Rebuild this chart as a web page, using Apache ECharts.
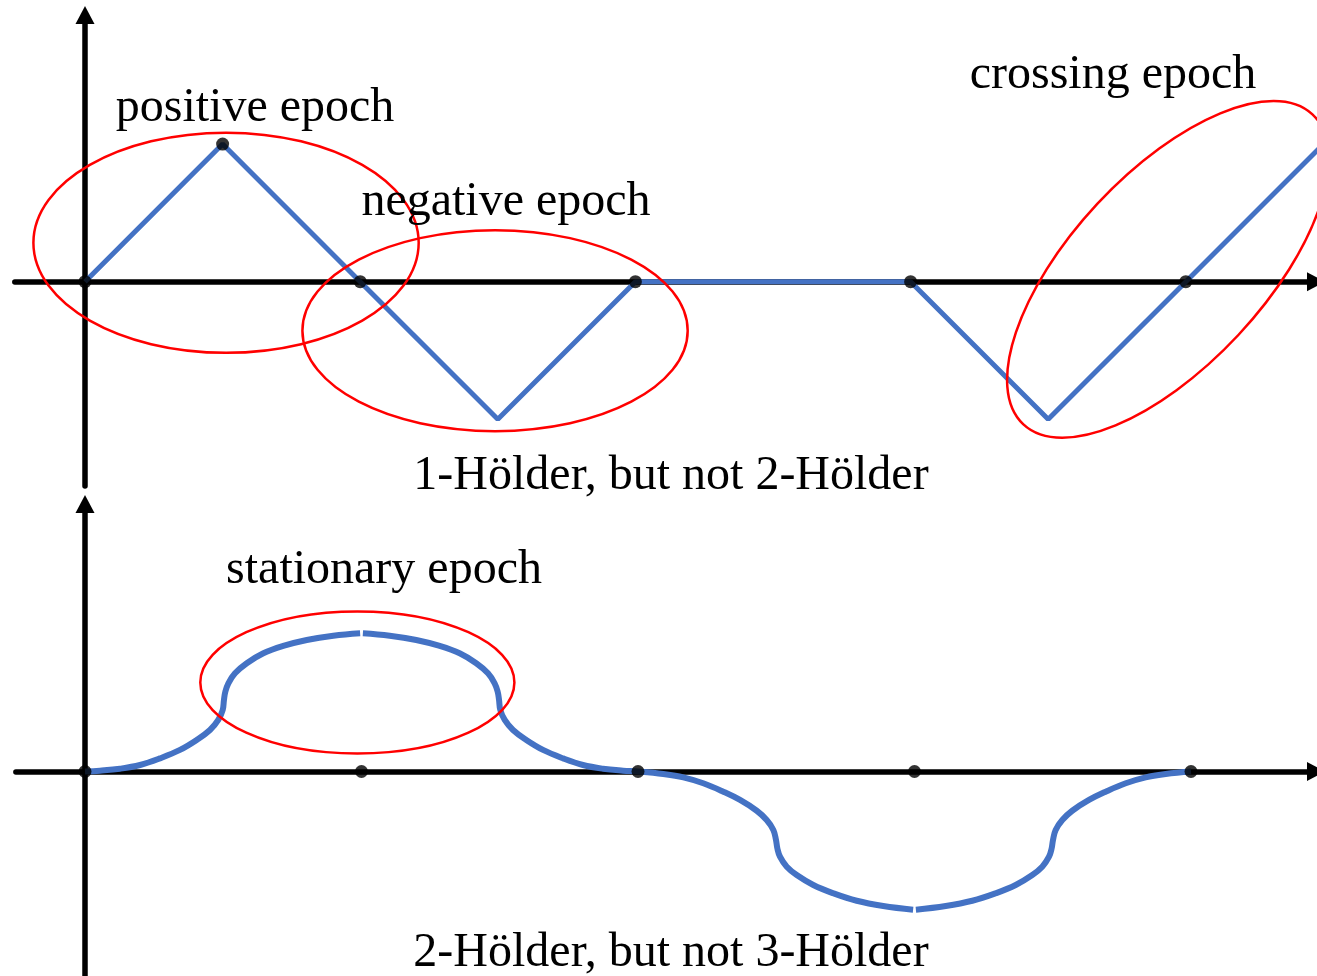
<!DOCTYPE html>
<html><head><meta charset="utf-8">
<script src="https://cdn.jsdelivr.net/npm/echarts@6/dist/echarts.min.js"></script>
<style>html,body{margin:0;padding:0;background:#fff}#c{width:1317px;height:976px}</style>
</head><body><div id="c"></div>
<script>
// ---------- DATA ----------
// top panel: piecewise-linear path (1-Hölder, but not 2-Hölder)
const topLineX = [0, 1, 2, 3, 4, 6, 7, 8, 9];
const topLineY = [0, 1, 0, -1, 0, 0, -1, 0, 1];
const topDotsX = [0, 1, 2, 4, 6, 8];
const topDotsY = [0, 1, 0, 0, 0, 0];
// bottom panel: smooth path (2-Hölder, but not 3-Hölder); null = small gap at the extremum
const botCurveX = [0, 0.108, 0.253, 0.398, 0.542, 0.687, 0.808, 0.904, 0.964, 0.996, 1.005, 1.015, 1.037, 1.085, 1.17, 1.29, 1.434, 1.604, 1.796, 1.99,
  2,
  2.01, 2.204, 2.396, 2.566, 2.71, 2.83, 2.915, 2.963, 2.985, 2.995, 3.004, 3.036, 3.096, 3.192, 3.313, 3.458, 3.602, 3.747, 3.892, 4,
  4.183, 4.328, 4.472, 4.617, 4.738, 4.859, 4.931, 4.979, 4.998, 5.008, 5.027, 5.076, 5.148, 5.268, 5.413, 5.582, 5.774, 5.99,
  6,
  6.01, 6.226, 6.418, 6.587, 6.732, 6.852, 6.924, 6.973, 6.992, 7.002, 7.021, 7.069, 7.141, 7.262, 7.383, 7.528, 7.672, 7.817, 8];
const botCurveY = [0, 0.006, 0.02, 0.047, 0.095, 0.156, 0.228, 0.30, 0.373, 0.445, 0.517, 0.577, 0.638, 0.71, 0.783, 0.855, 0.908, 0.951, 0.982, 1.0,
  null,
  1.0, 0.982, 0.951, 0.908, 0.855, 0.783, 0.71, 0.638, 0.577, 0.517, 0.445, 0.373, 0.30, 0.228, 0.156, 0.095, 0.047, 0.02, 0.006, 0,
  -0.018, -0.042, -0.085, -0.146, -0.206, -0.284, -0.351, -0.423, -0.495, -0.556, -0.616, -0.689, -0.749, -0.821, -0.881, -0.935, -0.973, -1.0,
  null,
  -1.0, -0.973, -0.935, -0.881, -0.821, -0.749, -0.689, -0.616, -0.556, -0.495, -0.423, -0.351, -0.284, -0.206, -0.146, -0.085, -0.042, -0.018, 0];
const botDotsX = [0, 2, 4, 6, 8];
const botDotsY = [0, 0, 0, 0, 0];
// annotation ellipses (data units of their panel)
const ellipsePanel = [0, 0, 0, 1];
const ellipseCX = [1.025, 2.98, 7.87, 1.97];
const ellipseCY = [0.283, -0.356, 0.09, 0.644];
const ellipseRX = [1.40, 1.40, 1.54, 1.136];
const ellipseRY = [0.80, 0.73, 0.70, 0.514];
const ellipseRotDeg = [0, 0, 47, 0];
// text labels
const labelTexts = ['positive epoch', 'negative epoch', 'crossing epoch', '1-Hölder, but not 2-Hölder', 'stationary epoch', '2-Hölder, but not 3-Hölder'];

// ---------- LAYOUT ----------
const panels = [
  {x0: 85, y0: 281.7, u: 137.6, xmin: -0.51, xmax: 8.946, ymin: -1.485, ymax: 1.938},
  {x0: 85, y0: 771.5, u: 138.25, xmin: -0.5, xmax: 8.904, ymin: -1.479, ymax: 1.935}
];
const labelPos = [[255, 120], [506, 214], [1113, 87], [671, 488], [384, 582], [671, 965]];
const BLUE = '#4472C4';

const zip = (xs, ys) => xs.map((x, i) => [x, ys[i]]);

const grids = panels.map(p => ({
  left: p.x0 + p.xmin * p.u,
  top: p.y0 - p.ymax * p.u,
  width: (p.xmax - p.xmin) * p.u,
  height: (p.ymax - p.ymin) * p.u,
  containLabel: false
}));
const axisLineCommon = {
  show: true, onZero: true,
  symbol: ['none', 'triangle'], symbolSize: [19, 18],
  lineStyle: {color: '#000', width: 5.5}
};
const xAxes = panels.map((p, i) => ({
  type: 'value', gridIndex: i, min: p.xmin, max: p.xmax,
  axisLine: axisLineCommon, axisTick: {show: false}, axisLabel: {show: false}, splitLine: {show: false}
}));
const yAxes = panels.map((p, i) => ({
  type: 'value', gridIndex: i, min: p.ymin, max: p.ymax,
  axisLine: axisLineCommon, axisTick: {show: false}, axisLabel: {show: false}, splitLine: {show: false}
}));

const chart = echarts.init(document.getElementById('c'), null, {renderer: 'canvas'});
const option = {
  animation: false,
  backgroundColor: '#fff',
  grid: grids,
  xAxis: xAxes,
  yAxis: yAxes,
  series: [
    {type: 'line', xAxisIndex: 0, yAxisIndex: 0, data: zip(topLineX, topLineY), symbol: 'none',
      lineStyle: {color: BLUE, width: 5}, z: 3},
    {type: 'scatter', xAxisIndex: 0, yAxisIndex: 0, data: zip(topDotsX, topDotsY), symbolSize: 13,
      itemStyle: {color: '#000'}, z: 4},
    {type: 'line', xAxisIndex: 1, yAxisIndex: 1, data: zip(botCurveX, botCurveY), symbol: 'none',
      smooth: 0.4, connectNulls: false, lineStyle: {color: BLUE, width: 6}, z: 3},
    {type: 'scatter', xAxisIndex: 1, yAxisIndex: 1, data: zip(botDotsX, botDotsY), symbolSize: 13,
      itemStyle: {color: '#000'}, z: 4}
  ]
};
chart.setOption(option);

const graphics = [];
ellipseCX.forEach((cx, i) => {
  const g = {gridIndex: ellipsePanel[i]};
  const c = chart.convertToPixel(g, [cx, ellipseCY[i]]);
  const ex = chart.convertToPixel(g, [cx + ellipseRX[i], ellipseCY[i]]);
  const ey = chart.convertToPixel(g, [cx, ellipseCY[i] + ellipseRY[i]]);
  graphics.push({
    type: 'ellipse', x: c[0], y: c[1], rotation: ellipseRotDeg[i] * Math.PI / 180,
    shape: {cx: 0, cy: 0, rx: Math.abs(ex[0] - c[0]), ry: Math.abs(c[1] - ey[1])},
    style: {fill: 'none', stroke: '#FF0000', lineWidth: 2.5}, z: 10, silent: true
  });
});
labelTexts.forEach((t, i) => {
  graphics.push({
    type: 'text', x: labelPos[i][0], y: labelPos[i][1] - 12, z: 20, silent: true,
    style: {text: t, fill: '#000', fontSize: 48, fontFamily: '"Liberation Serif", "Times New Roman", serif',
      align: 'center', verticalAlign: 'middle', textAlign: 'center', textVerticalAlign: 'middle'}
  });
});
chart.setOption({graphic: graphics});
</script>
</body></html>
